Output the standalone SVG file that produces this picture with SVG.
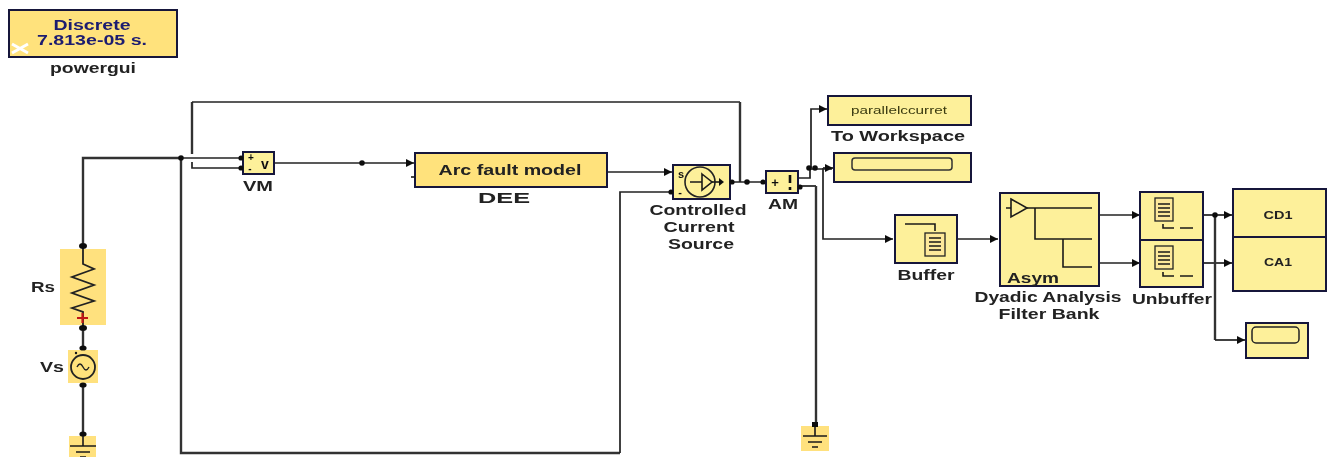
<svg xmlns="http://www.w3.org/2000/svg" width="1328" height="457" viewBox="0 0 1328 457">
<defs>
<marker id="arr" markerUnits="userSpaceOnUse" markerWidth="9" markerHeight="9" refX="8" refY="4.5" orient="auto"><path d="M0,0.5L8,4.5L0,8.5Z" fill="#111"/></marker>
<filter id="soft" x="-5%" y="-5%" width="110%" height="110%"><feGaussianBlur stdDeviation="0.55"/></filter>
</defs>
<style>
text{font-family:"Liberation Sans",Arial,sans-serif;font-weight:bold;fill:#222;text-anchor:middle}
.b{fill:#fdf09a;stroke:#15153a;stroke-width:2}
.o{fill:#ffe27c;stroke:#15153a;stroke-width:2}
.p{fill:#ffe17e;stroke:none}
.s{fill:none;stroke:#1a1a1a;stroke-width:1.6}
.w{fill:none;stroke:#222;stroke-width:1.7}
.g{fill:none;stroke:#333;stroke-width:2.4}
.a{marker-end:url(#arr)}
.d{fill:#111}
.l{font-size:15px}
</style>
<g id="canvas" filter="url(#soft)">
<g id="connectors">
<path class="g" d="M83,246V158H181"/>
<path class="w" d="M181,158H243"/>
<path class="g" d="M181,158V453H620"/>
<path class="w" d="M620,453V192H673"/>
<path class="g" d="M192,154V102"/>
<path class="w" d="M192,102H740"/>
<path class="g" d="M740,102V182"/>
<path class="w" d="M192,162V168H243"/>
<path class="w a" d="M275,163H414"/>
<path class="w a" d="M606,172H672"/>
<path class="w" d="M731,182H766"/>
<path class="w" d="M798,178H810V169H832"/>
<path class="w a" d="M811,168V109H827"/>
<path class="w a" d="M823,168H833"/>
<path class="w a" d="M823,168V239H893"/>
<path class="w" d="M798,186H816"/>
<path class="g" d="M816,186V426"/>
<path class="w a" d="M958,239H998"/>
<path class="w a" d="M1100,215H1140"/>
<path class="w a" d="M1100,263H1140"/>
<path class="w a" d="M1204,215H1232"/>
<path class="w a" d="M1204,263H1232"/>
<path class="g" d="M1215,215V340"/>
<path class="w a" d="M1215,340H1245"/>
<path class="g" d="M83,327V348"/>
<path class="g" d="M83,385V434"/>
<circle class="d" cx="181" cy="158" r="2.8"/>
<circle class="d" cx="362" cy="163" r="2.8"/>
<circle class="d" cx="747" cy="182" r="2.8"/>
<circle class="d" cx="809" cy="168" r="2.8"/>
<circle class="d" cx="815" cy="168" r="2.8"/>
<circle class="d" cx="1215" cy="215" r="2.8"/>
</g>
<g id="powergui">
<rect class="o" x="9" y="10" width="168" height="47"/>
<text x="92" y="30" font-size="14.5" style="fill:#1a1a70" textLength="77" lengthAdjust="spacingAndGlyphs">Discrete</text>
<text x="92" y="45" font-size="14.5" style="fill:#1a1a70" textLength="110" lengthAdjust="spacingAndGlyphs">7.813e-05 s.</text>
<path d="M12,53L28,44M12,44L28,53" stroke="#fff" stroke-width="3" fill="none"/>
<text class="l" x="93" y="73" textLength="86" lengthAdjust="spacingAndGlyphs">powergui</text>
</g>
<g id="VM">
<rect class="b" x="243" y="152" width="31" height="22"/>
<text x="251" y="160.5" font-size="10" style="fill:#111">+</text>
<text x="250" y="172" font-size="10" style="fill:#111">-</text>
<text x="265" y="169" font-size="14" style="fill:#111">v</text>
<circle class="d" cx="241" cy="158" r="2.6"/><circle class="d" cx="241" cy="168" r="2.6"/>
<text class="l" x="258" y="191" textLength="30" lengthAdjust="spacingAndGlyphs">VM</text>
</g>
<g id="DEE">
<rect class="o" x="415" y="153" width="192" height="34"/>
<path class="s" d="M411,177H415"/>
<text x="510" y="175" font-size="15" textLength="143" lengthAdjust="spacingAndGlyphs">Arc fault model</text>
<text class="l" x="504" y="203" textLength="52" lengthAdjust="spacingAndGlyphs">DEE</text>
</g>
<g id="CCS">
<rect class="b" x="673" y="165" width="57" height="34"/>
<circle cx="700" cy="182" r="15" fill="none" stroke="#222" stroke-width="1.6"/>
<path class="s" d="M690,182H702M702,174L712,182L702,190Z"/>
<path class="s" d="M712,182H722"/>
<path class="d" d="M719,178L724,182L719,186Z"/>
<text x="681" y="178" font-size="11" style="fill:#111">s</text>
<text x="680" y="196" font-size="11" style="fill:#111">-</text>
<circle class="d" cx="671" cy="192" r="2.6"/>
<circle class="d" cx="732" cy="182" r="2.6"/>
<text class="l" x="698" y="215" textLength="97" lengthAdjust="spacingAndGlyphs">Controlled</text>
<text class="l" x="699" y="232" textLength="71" lengthAdjust="spacingAndGlyphs">Current</text>
<text class="l" x="701" y="249" textLength="66" lengthAdjust="spacingAndGlyphs">Source</text>
</g>
<g id="AM">
<rect class="b" x="766" y="171" width="32" height="22"/>
<text x="775" y="187" font-size="13" style="fill:#111">+</text>
<path d="M790,175V183M790,187V190" stroke="#111" stroke-width="2.6" fill="none"/>
<circle class="d" cx="763" cy="182" r="2.6"/><circle class="d" cx="800" cy="187" r="2.6"/>
<text class="l" x="783" y="209" textLength="30" lengthAdjust="spacingAndGlyphs">AM</text>
</g>
<g id="ToWorkspace">
<rect class="b" x="828" y="96" width="143" height="29"/>
<text x="899" y="114" font-size="10" style="fill:#3a3a10;font-weight:normal" textLength="96" lengthAdjust="spacingAndGlyphs">parallelccurret</text>
<text class="l" x="898" y="141" textLength="134" lengthAdjust="spacingAndGlyphs">To Workspace</text>
</g>
<g id="Scope1">
<rect class="b" x="834" y="153" width="137" height="29"/>
<rect x="852" y="158" width="100" height="12" rx="3" fill="#fdf09a" stroke="#333" stroke-width="1.5"/>
</g>
<g id="Buffer">
<rect class="b" x="895" y="215" width="62" height="48"/>
<path class="s" d="M905,224H935V231"/>
<rect x="925" y="233" width="20" height="23" fill="#fde99a" stroke="#222" stroke-width="1.3"/>
<path class="s" d="M929,238H941M929,242H941M929,246H941M929,250H941"/>
<text class="l" x="926" y="280" textLength="57" lengthAdjust="spacingAndGlyphs">Buffer</text>
</g>
<g id="DyadicFilterBank">
<rect class="b" x="1000" y="193" width="99" height="93"/>
<path class="s" d="M1006,208H1011M1011,199L1027,208L1011,217Z"/>
<path class="s" d="M1027,208H1092M1035,208V239H1092M1063,239V267H1092"/>
<text x="1033" y="283" font-size="15" textLength="52" lengthAdjust="spacingAndGlyphs">Asym</text>
<text class="l" x="1048" y="302" textLength="147" lengthAdjust="spacingAndGlyphs">Dyadic Analysis</text>
<text class="l" x="1049" y="319" textLength="101" lengthAdjust="spacingAndGlyphs">Filter Bank</text>
</g>
<g id="Unbuffer1">
<rect class="b" x="1140" y="192" width="63" height="48"/>
<rect x="1155" y="198" width="18" height="23" fill="#fde99a" stroke="#222" stroke-width="1.3"/>
<path class="s" d="M1158,204H1170M1158,208H1170M1158,212H1170M1158,216H1170"/>
<path class="s" d="M1163,224V228H1174M1180,228H1193"/>
</g>
<g id="Unbuffer2">
<rect class="b" x="1140" y="240" width="63" height="47"/>
<rect x="1155" y="246" width="18" height="23" fill="#fde99a" stroke="#222" stroke-width="1.3"/>
<path class="s" d="M1158,252H1170M1158,256H1170M1158,260H1170M1158,264H1170"/>
<path class="s" d="M1163,272V276H1174M1180,276H1193"/>
<text class="l" x="1172" y="304" textLength="80" lengthAdjust="spacingAndGlyphs">Unbuffer</text>
</g>
<g id="CD1">
<rect class="b" x="1233" y="189" width="93" height="48"/>
<text x="1278" y="219" font-size="10.5" textLength="29" lengthAdjust="spacingAndGlyphs">CD1</text>
</g>
<g id="CA1">
<rect class="b" x="1233" y="237" width="93" height="54"/>
<text x="1278" y="266" font-size="10.5" textLength="28" lengthAdjust="spacingAndGlyphs">CA1</text>
</g>
<g id="Scope2">
<rect class="b" x="1246" y="323" width="62" height="35"/>
<rect x="1252" y="327" width="47" height="16" rx="4" fill="#fdf09a" stroke="#222" stroke-width="1.5"/>
</g>
<g id="Rs">
<rect class="p" x="60" y="249" width="46" height="76"/>
<path d="M83,246V264L94,269L72,277L94,285L72,293L94,301L72,308L83,312V327" fill="none" stroke="#222" stroke-width="1.8"/>
<path d="M77,318H88M82.500,313V323" stroke="#c01818" stroke-width="2.2"/>
<ellipse class="d" cx="83" cy="246" rx="4" ry="3"/><ellipse class="d" cx="83" cy="328" rx="4" ry="3"/>
<text class="l" x="43" y="292" textLength="24" lengthAdjust="spacingAndGlyphs">Rs</text>
</g>
<g id="Vs">
<rect class="p" x="68" y="350" width="30" height="33"/>
<circle cx="83" cy="367" r="12" fill="#ffe27c" stroke="#222" stroke-width="1.8"/>
<path d="M77,367Q80,361 83,367T89,367" fill="none" stroke="#222" stroke-width="1.4"/>
<circle class="d" cx="76" cy="353" r="1.2"/>
<ellipse class="d" cx="83" cy="348" rx="3.600" ry="2.600"/><ellipse class="d" cx="83" cy="385" rx="3.600" ry="2.600"/>
<text class="l" x="52" y="372" textLength="24" lengthAdjust="spacingAndGlyphs">Vs</text>
</g>
<g id="Ground1">
<rect class="p" x="69" y="436" width="27" height="21"/>
<path class="s" d="M83,436V446M70,446H96M76,452H90M80,457H86"/>
<ellipse class="d" cx="83" cy="434" rx="3.600" ry="2.600"/>
</g>
<g id="Ground2">
<rect class="p" x="801" y="426" width="28" height="25"/>
<path class="s" d="M815,426V436M803,436H827M808,442H822M812,447H818"/>
<rect class="d" x="812" y="422" width="6" height="5"/>
</g>
</g>
</svg>
